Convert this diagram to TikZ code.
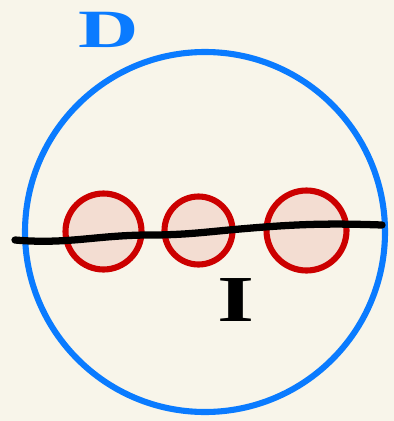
\documentclass[tikz,border=0pt]{standalone}
\usepackage{fontspec}
\setmainfont{Liberation Serif}
\usepackage{xcolor}
\usepackage{tikz}
\usetikzlibrary{positioning, calc}
\definecolor{paperbg}{RGB}{248,245,234}
\definecolor{setblue}{RGB}{10,123,255}
\definecolor{ballred}{RGB}{204,0,0}
\definecolor{ballfill}{RGB}{243,221,210}

\begin{document}
\begin{tikzpicture}[x=0.03cm, y=-0.03cm,
    ball/.style={draw=ballred, fill=ballfill, circle, line width=5.2pt, inner sep=0pt},
    every node/.style={font=\bfseries}]

    % Background
    \fill[paperbg] (0,0) rectangle (394,421);
    \useasboundingbox (0,0) rectangle (394,421);

    % Domain
    \node[draw=setblue, circle, line width=5.2pt, minimum size=360*0.03cm, inner sep=0pt] (dom) at (205,232) {};
    \node[text=setblue, font=\fontsize{46}{46}\selectfont\bfseries, xscale=1.55] (dlabel) at (109,30) {D};

    % Balls
    \node[ball, minimum size=76*0.03cm] (b1) at (103.5,231.5) {};
    \node[ball, minimum size=68*0.03cm] (b2) at (198.5,230.5) {};
    \node[ball, minimum size=80*0.03cm] (b3) at (306.5,230.5) {};

    % Line through the balls
    \coordinate (lstart) at (15,240);
    \coordinate (lend) at (382,225);
    \draw[line width=6.2pt, line cap=round] (lstart) to[out=-5, in=180] (150,235)
        to[out=0, in=185] (240,229) to[out=5, in=178] (lend);
    \node[font=\fontsize{56}{56}\selectfont\bfseries, xscale=1.45] (ilabel) at (236,300) {I};
\end{tikzpicture}
\end{document}
